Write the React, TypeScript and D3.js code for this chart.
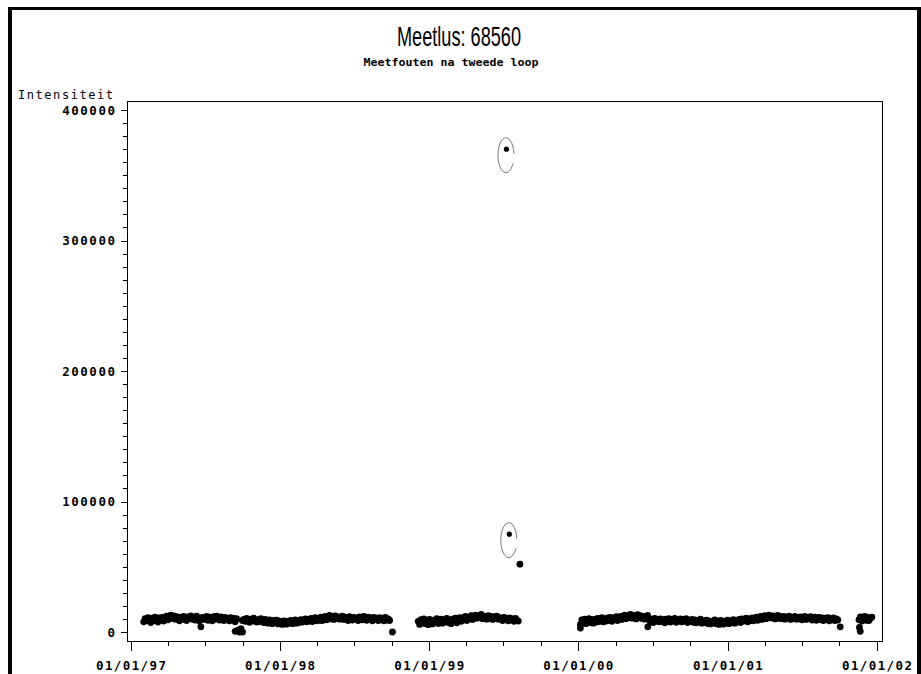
import React from 'react';
import * as d3 from 'd3';

const TITLE = 'Meetlus: 68560';
const SUBTITLE = 'Meetfouten na tweede loop';
const Y_LABEL = 'Intensiteit';

const yTickValues = [0, 100000, 200000, 300000, 400000];
const yTickLabels = ['0', '100000', '200000', '300000', '400000'];
const xTickDates = ['1997-01-01', '1998-01-01', '1999-01-01', '2000-01-01', '2001-01-01', '2002-01-01'];
const xTickLabels = ['01/01/97', '01/01/98', '01/01/99', '01/01/00', '01/01/01', '01/01/02'];

// measurement runs: start date, one reading every 3.5 days
const segmentStarts = ['1997-02-01', '1998-12-05', '2000-01-06', '2001-11-18'];

const seg1Values = [
  7800, 10200, 8600, 11000, 9400, 7200, 10600, 8800, 11400, 9000,
  7600, 10800, 9200, 11200, 8400, 10000, 12200, 9400, 11600, 13000,
  10400, 12400, 9800, 11800, 10200, 8600, 11400, 9600, 12000, 10000,
  8800, 11600, 10400, 12400, 9800, 11000, 9200, 12200, 10600, 8400,
  4000, 11200, 9600, 10800, 12000, 9000, 11400, 10200, 8600, 11800,
  9800, 12200, 10400, 9200, 11600, 10000, 8800, 11200, 9400, 10600,
  8600, 11000, 9200, 10400, 7800, 10200, 1500, 0, 2500, 8800,
  9600, 8200, 10400, 8800, 7400, 9800, 8400, 10600, 9000, 7600,
  9400, 8000, 10200, 8600, 7200, 9600, 8200, 6800, 9200, 7800,
  6400, 8800, 7400, 9000, 6200, 8400, 7000, 5800, 8600, 7200,
  6000, 8400, 7000, 8800, 6400, 7800, 9200, 6800, 8600, 7400,
  9400, 7600, 8800, 10000, 7800, 9200, 8400, 10400, 8000, 9600,
  11000, 8600, 10200, 9000, 11400, 8800, 10600, 12000, 9400, 11200,
  12800, 10000, 11800, 9600, 12400, 10400, 11600, 9800, 11000, 12200,
  9600, 11400, 10200, 8800, 11800, 10000, 9200, 11200, 9800, 10800,
  8800, 11600, 10400, 9400, 12000, 10200, 9000, 11400, 9600, 10800,
  8600, 11200, 9800, 10600, 8800, 11000, 9400, 10400, 8600, 11200,
  9200, 10000, 8800,
];

const seg2Values = [
  8200, 5800, 9400, 7000, 10000, 6400, 8800, 5600, 9600, 7400,
  6200, 9000, 7600, 10200, 6600, 8600, 9800, 6800, 9200, 7800,
  10400, 7200, 9000, 6400, 9800, 8000, 10600, 7000, 9400, 11000,
  8200, 10800, 9400, 12000, 8800, 11200, 10000, 12600, 9600, 11800,
  13000, 10600, 12400, 11000, 13400, 10200, 12200, 11400, 9800, 12600,
  10800, 12000, 9600, 11600, 10400, 12200, 9800, 11000, 10200, 8800,
  11200, 9400, 10600, 8600, 10800, 9200, 10000, 8200, 10400, 9000, 8400,
];

const seg3Values = [
  5600, 9200, 7000, 9800, 6400, 8600, 10200, 7200, 9400, 6800,
  9600, 7600, 10400, 8000, 9200, 11000, 7800, 10000, 8400, 10800,
  9000, 11200, 8200, 10600, 9400, 11800, 8800, 10400, 12000, 9600,
  11400, 13000, 10200, 12400, 11000, 13400, 10600, 12800, 11600, 10000,
  13200, 11200, 12600, 10400, 12000, 9800, 11400, 12800, 10200, 7400,
  9800, 7200, 10400, 8400, 9600, 7800, 10000, 8200, 9400, 7000,
  9800, 8000, 10200, 7600, 9200, 8600, 10400, 7400, 9000, 8200,
  10000, 7800, 9400, 8400, 10200, 7200, 9000, 8000, 9600, 7400,
  9200, 7000, 8800, 7600, 9800, 6800, 8400, 7200, 9000, 6600,
  8600, 6200, 8000, 7000, 9200, 6400, 8200, 5800, 8800, 7000,
  6000, 8400, 6800, 9000, 6400, 8600, 7400, 9400, 6800, 8800,
  7800, 9600, 7200, 10000, 8400, 9200, 10600, 7800, 9800, 8800,
  10800, 8600, 10200, 11400, 9000, 10800, 12000, 9600, 11200, 12600,
  10200, 12200, 13000, 10800, 11800, 12400, 10000, 11600, 12800, 10400,
  11800, 10200, 12000, 9800, 11400, 10600, 12200, 9600, 11000, 10400,
  12000, 9800, 11200, 10000, 11600, 9400, 10800, 12000, 9600, 11000,
  10200, 11800, 9200, 10600, 11400, 9000, 10400, 11200, 9400, 10800,
  8800, 10600, 9800, 11000, 8600, 10200, 9400, 10800, 8800, 10000, 9200,
];

const seg4Values = [9400, 11600, 8400, 10800, 12000, 9000, 11200, 8800, 10600, 11400];

const outlierDates = [
  '1997-09-13', '1997-09-24', '1997-10-01', '1998-10-03', '1999-08-11',
  '2000-01-06', '2000-06-19', '2001-10-03', '2001-11-19', '2001-11-21',
];
const outlierValues = [500, 1000, 0, 0, 52000, 3000, 4000, 4000, 3500, 500];

// flagged (circled) measurement errors
const circledDates = ['1999-07-09', '1999-07-16'];
const circledValues = [370000, 75000];

const parse = d3.timeParse('%Y-%m-%d');

export default function App() {
  const W = 921;
  const H = 674;
  const box = { left: 127, right: 882, top: 101, bottom: 641 };

  const x = d3.scaleTime()
    .domain([parse(xTickDates[0])!, parse(xTickDates[xTickDates.length - 1])!])
    .range([131, 877]);
  const y = d3.scaleLinear().domain([0, 400000]).range([632, 110]);

  const segs = [seg1Values, seg2Values, seg3Values, seg4Values];
  const points: { d: Date; v: number }[] = [];
  segs.forEach((vals, si) => {
    const s = parse(segmentStarts[si])!;
    vals.forEach((v, i) => points.push({ d: d3.timeHour.offset(s, i * 84), v }));
  });
  outlierDates.forEach((ds, i) => points.push({ d: parse(ds)!, v: outlierValues[i] }));
  const circled = circledDates.map((ds, i) => ({ d: parse(ds)!, v: circledValues[i] }));

  const minorY = d3.range(0, 400001, 10000).filter((v) => v % 100000 !== 0);
  const minorX = d3.timeMonth
    .every(3)!
    .range(x.domain()[0], x.domain()[1])
    .filter((d) => d.getMonth() !== 0);

  const monoFont = "'DejaVu Sans Mono', monospace";

  const ellipsePath = (cx: number, cy: number, rx: number, ry: number) => {
    const t1 = (28 * Math.PI) / 180;
    const t2 = (355 * Math.PI) / 180;
    const p = d3.path();
    p.moveTo(cx + rx * Math.cos(t1), cy + ry * Math.sin(t1));
    const ex = cx + rx * Math.cos(t2);
    const ey = cy + ry * Math.sin(t2);
    return p.toString() + ` A ${rx} ${ry} 0 1 1 ${ex} ${ey}`;
  };

  return (
    <svg
      width={W}
      height={H}
      style={{ position: 'absolute', left: 0, top: 0, background: '#fff' }}
    >
      {/* outer frame */}
      <rect x={8} y={7} width={913} height={3} fill="#000" />
      <rect x={8} y={7} width={4} height={H - 7} fill="#000" />
      <rect x={917} y={7} width={4} height={H - 7} fill="#000" />

      <text
        x={459}
        y={46}
        textAnchor="middle"
        fontFamily="'Liberation Sans', Arial, sans-serif"
        fontSize={28}
        textLength={124}
        lengthAdjust="spacingAndGlyphs"
        fill="#000"
      >
        {TITLE}
      </text>
      <text
        x={451}
        y={66}
        textAnchor="middle"
        fontFamily={monoFont}
        fontWeight="bold"
        fontSize={11}
        textLength={175}
        lengthAdjust="spacingAndGlyphs"
        fill="#000"
      >
        {SUBTITLE}
      </text>

      <text
        x={18}
        y={99}
        fontFamily={monoFont}
        fontSize={12}
        textLength={95}
        lengthAdjust="spacing"
        fill="#000"
      >
        {Y_LABEL}
      </text>

      {/* plot box */}
      <rect
        x={box.left + 0.5}
        y={box.top + 0.5}
        width={box.right - box.left}
        height={box.bottom - box.top}
        fill="none"
        stroke="#000"
        strokeWidth={1}
      />

      {/* y axis ticks */}
      {minorY.map((v) => (
        <line key={'my' + v} x1={box.left - 4} x2={box.left} y1={Math.round(y(v)) + 0.5} y2={Math.round(y(v)) + 0.5} stroke="#000" />
      ))}
      {yTickValues.map((v, i) => (
        <g key={'y' + v}>
          <line x1={box.left - 6} x2={box.left} y1={Math.round(y(v)) + 0.5} y2={Math.round(y(v)) + 0.5} stroke="#000" />
          <text
            x={115}
            y={y(v) + 4.5}
            textAnchor="end"
            fontFamily={monoFont}
            fontWeight="bold"
            fontSize={12.5}
            textLength={yTickLabels[i].length * 8.8}
            lengthAdjust="spacing"
            fill="#000"
          >
            {yTickLabels[i]}
          </text>
        </g>
      ))}

      {/* x axis ticks */}
      {minorX.map((d) => (
        <line key={'mx' + d.getTime()} x1={Math.round(x(d)) + 0.5} x2={Math.round(x(d)) + 0.5} y1={box.bottom} y2={box.bottom + 5} stroke="#000" />
      ))}
      {xTickDates.map((ds, i) => {
        const xx = x(parse(ds)!);
        return (
          <g key={'x' + ds}>
            <line x1={Math.round(xx) + 0.5} x2={Math.round(xx) + 0.5} y1={box.bottom} y2={box.bottom + 10} stroke="#000" />
            <text
              x={xx}
              y={670}
              textAnchor="middle"
              fontFamily={monoFont}
              fontWeight="bold"
              fontSize={12.5}
              textLength={70}
              lengthAdjust="spacing"
              fill="#000"
            >
              {xTickLabels[i]}
            </text>
          </g>
        );
      })}

      {/* data points */}
      {points.map((p, i) => (
        <circle key={'p' + i} cx={x(p.d)} cy={y(p.v)} r={3.4} fill="#000" />
      ))}
      {circled.map((p, i) => (
        <g key={'c' + i}>
          <circle cx={x(p.d)} cy={y(p.v)} r={2.6} fill="#000" />
          <path d={ellipsePath(x(p.d) - 0.5, y(p.v) + 6, 8, 17.5)} fill="none" stroke="#777" strokeWidth={1} />
        </g>
      ))}
    </svg>
  );
}
